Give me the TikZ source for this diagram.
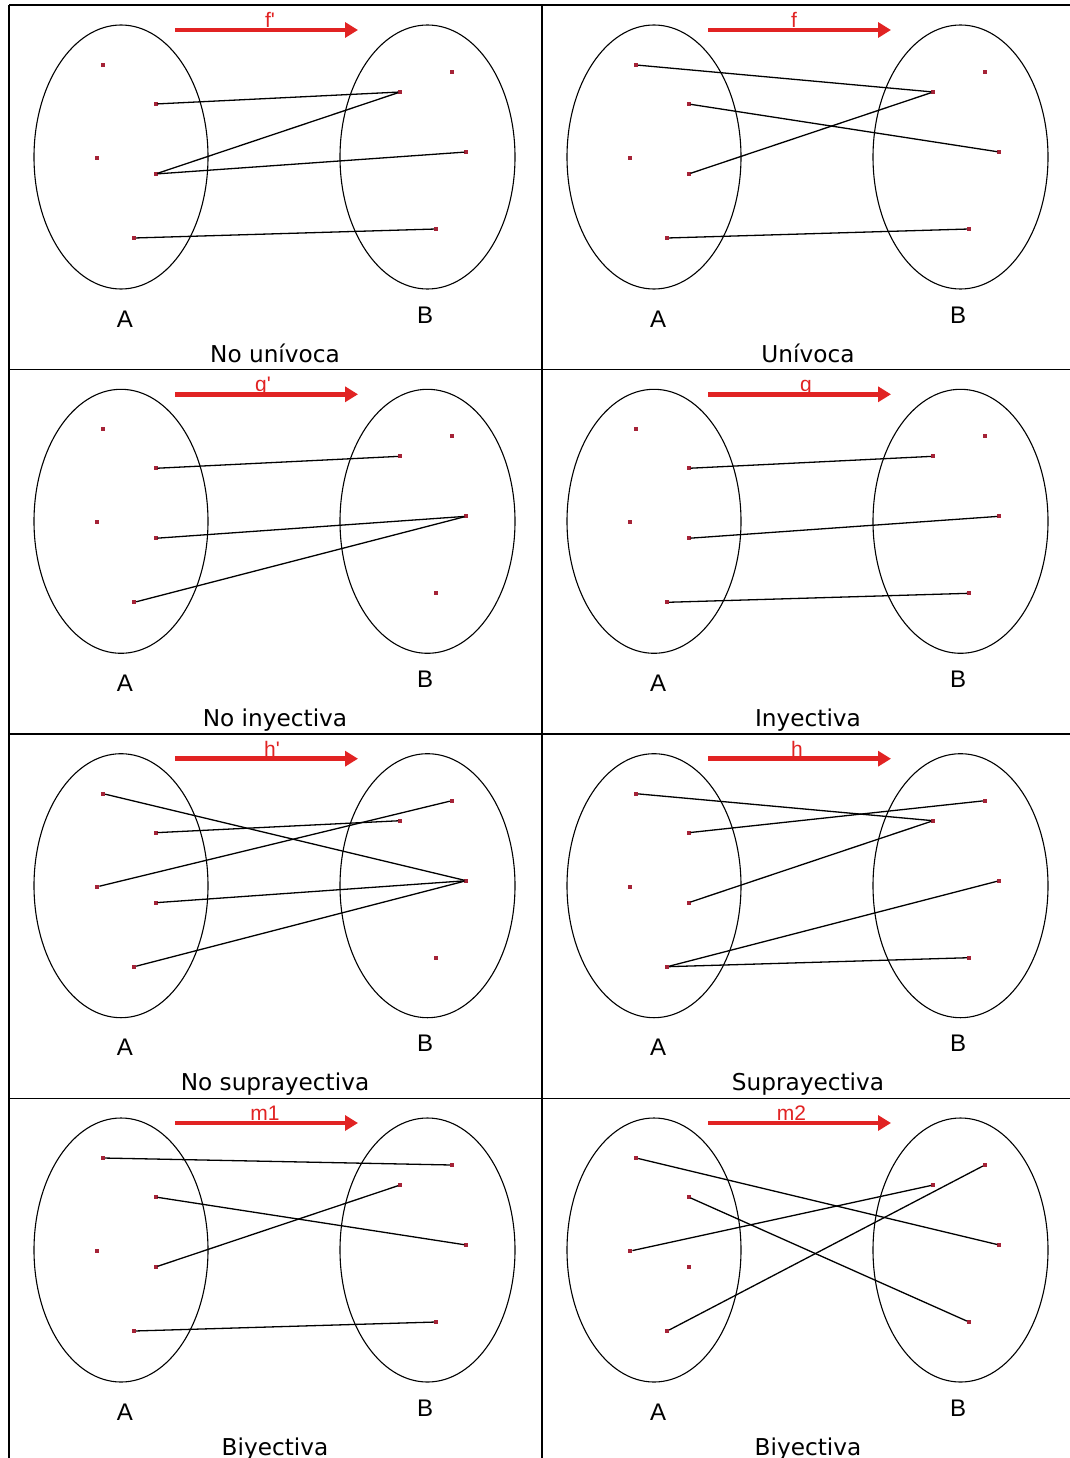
\documentclass[tikz,border=0pt]{standalone}
\usepackage{fontspec}
\newfontfamily\capfont{DejaVu Sans}
\newfontfamily\lblfont{Liberation Sans}
\usetikzlibrary{arrows.meta}
\definecolor{fnred}{RGB}{225,35,35}
\definecolor{ptred}{RGB}{165,35,55}
\tikzset{
 pt/.style={rectangle, fill=ptred, inner sep=0pt, minimum size=4pt, outer sep=0pt},
 setline/.style={draw=black, line width=1.1pt},
 link/.style={draw=black, line width=1.3pt},
 fnarrow/.style={draw=fnred, line width=4.5pt, -{Triangle[length=13pt,width=15pt]}},
 fnlabel/.style={anchor=base, text=fnred, inner sep=0pt, font=\lblfont\fontsize{21}{24}\selectfont},
 setlabel/.style={anchor=base, inner sep=0pt, font=\lblfont\fontsize{24}{28}\selectfont},
 capt/.style={anchor=base, inner sep=0pt, font=\capfont\fontsize{23.2}{27}\selectfont},
 outerframe/.style={line width=2pt},
 rowline/.style={line width=1.5pt}
}
% #1 prefix, #2 x offset, #3 y offset, #4 label, #5 label x, #6 caption, #7 links
\newcommand\drawcell[7]{%
\begin{scope}[shift={(#2,#3)}]
 \draw[setline] (121,157) ellipse [x radius=87pt, y radius=132pt];
 \draw[setline] (427.5,157) ellipse [x radius=87.5pt, y radius=132pt];
 \node[pt] (#1A1) at (103.2,65) {};
 \node[pt] (#1A2) at (155.5,104) {};
 \node[pt] (#1A3) at (97.4,158) {};
 \node[pt] (#1A4) at (155.5,174) {};
 \node[pt] (#1A5) at (134.2,238) {};
 \node[pt] (#1B1) at (451.8,72) {};
 \node[pt] (#1B2) at (400.2,92) {};
 \node[pt] (#1B3) at (466.3,152) {};
 \node[pt] (#1B4) at (436,229) {};
 \coordinate (#1s) at (175,30);
 \coordinate (#1e) at (358,30);
 \draw[fnarrow] (#1s) -- (#1e);
 \node[fnlabel] (#1lab) at (#5,27.5) {#4};
 \node[setlabel] (#1la) at (125,327) {A};
 \node[setlabel] (#1lb) at (425,323) {B};
 \node[capt] (#1cap) at (275,362) {#6};
 \foreach \a/\b in {#7} \draw[link] (#1A\a) -- (#1B\b);
\end{scope}}
\begin{document}
\begin{tikzpicture}[x=1pt,y=-1pt]
\fill[white] (0,0) rectangle (1070,1458);
\useasboundingbox (0,0) rectangle (1070,1458);
\drawcell{c1}{0}{0}{f\textquotesingle}{270}{No unívoca}{2/2,4/2,4/3,5/4}
\drawcell{c2}{533}{0}{f}{261}{Unívoca}{1/2,2/3,4/2,5/4}
\drawcell{c3}{0}{364.3}{g\textquotesingle}{263}{No inyectiva}{2/2,4/3,5/3}
\drawcell{c4}{533}{364.3}{g}{273}{Inyectiva}{2/2,4/3,5/4}
\drawcell{c5}{0}{728.7}{h\textquotesingle}{272}{No suprayectiva}{1/3,2/2,3/1,4/3,5/3}
\drawcell{c6}{533}{728.7}{h}{264}{Suprayectiva}{1/2,2/1,4/2,5/3,5/4}
\drawcell{c7}{0}{1093}{m1}{265}{Biyectiva}{1/1,2/3,4/2,5/4}
\drawcell{c8}{533}{1093}{m2}{258.5}{Biyectiva}{1/3,2/4,3/2,5/1}
\draw[outerframe] (9,5) -- (1070,5);
\draw[outerframe] (9,5) -- (9,1458);
\draw[outerframe] (542,5) -- (542,1458);
\draw[rowline] (9,369.3) -- (1070,369.3);
\draw[rowline] (9,734) -- (1070,734);
\draw[rowline] (9,1098.3) -- (1070,1098.3);
\end{tikzpicture}
\end{document}
